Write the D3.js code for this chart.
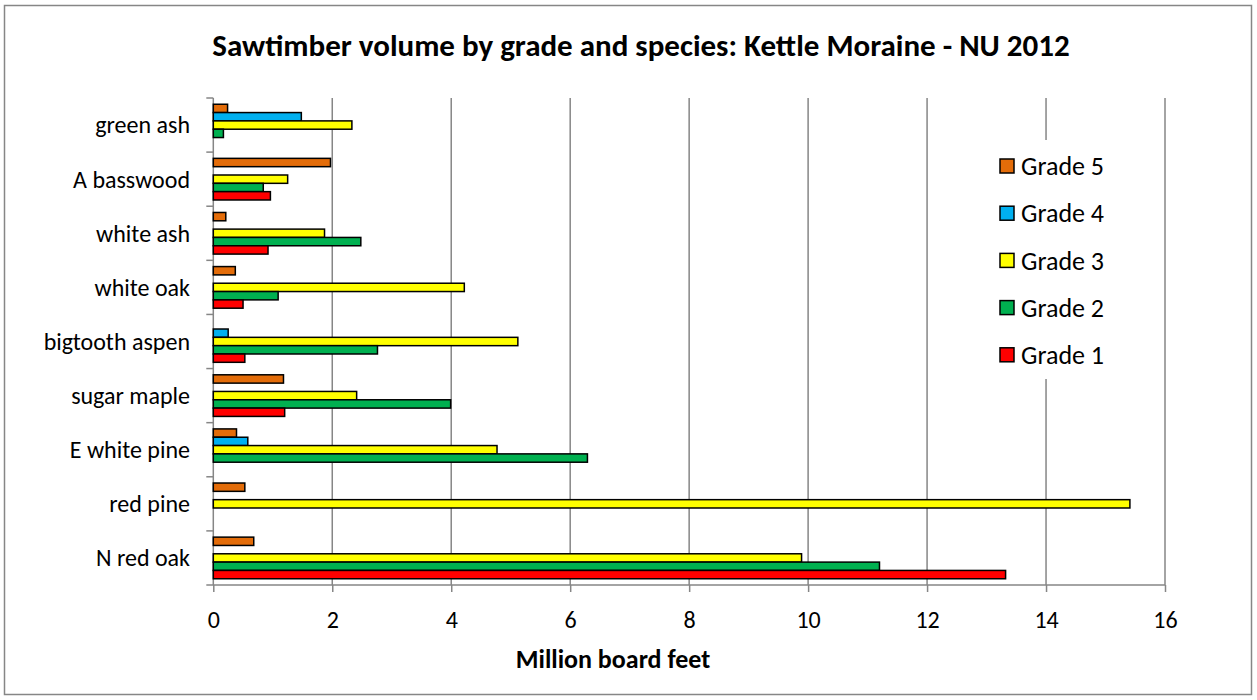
<!DOCTYPE html>
<html>
<head>
<meta charset="utf-8">
<script src="https://cdn.jsdelivr.net/npm/d3@7"></script>
<style>
  body { margin: 0; background: #fff; }
  text { font-family: Carlito, Lato, "Open Sans", sans-serif; fill: #000; }
</style>
</head>
<body>
<svg width="1257" height="700"></svg>
<script>
// categories, top to bottom as drawn
var species = ["green ash", "A basswood", "white ash", "white oak", "bigtooth aspen",
  "sugar maple", "E white pine", "red pine", "N red oak"];
var grades = ["Grade 5", "Grade 4", "Grade 3", "Grade 2", "Grade 1"];
var grade5 = [0.24, 1.97, 0.21, 0.37, 0, 1.18, 0.39, 0.53, 0.68];
var grade4 = [1.48, 0, 0, 0, 0.25, 0, 0.58, 0, 0];
var grade3 = [2.33, 1.25, 1.87, 4.22, 5.12, 2.41, 4.77, 15.41, 9.89];
var grade2 = [0.17, 0.84, 2.48, 1.09, 2.76, 3.99, 6.29, 0, 11.2];
var grade1 = [0, 0.96, 0.92, 0.50, 0.53, 1.20, 0, 0, 13.32];
var xTicks = [0, 2, 4, 6, 8, 10, 12, 14, 16];
var colors = ["#E36C09", "#00B0F0", "#FFFF00", "#00B050", "#FF0000"];

var series = [grade5, grade4, grade3, grade2, grade1];

var svg = d3.select("svg");

svg.append("rect").attr("x", 4.5).attr("y", 5.5).attr("width", 1247).attr("height", 689)
  .attr("fill", "#fff").attr("stroke", "#868686").attr("stroke-width", 1.5);

// plot area (window.top is read-only, so no bare "top")
var plotL = 213.3, plotR = 1165, plotT = 98, plotB = 585;

var x = d3.scaleLinear().domain([0, 16]).range([plotL, plotR]);
var y = d3.scaleBand().domain(species).range([plotT, plotB])
  .paddingInner(1.5 / 6.5).paddingOuter(0.75 / 6.5);
var yInner = d3.scaleBand().domain(grades).range([0, y.bandwidth()]);

// title
svg.append("text").attr("x", 641).attr("y", 56).attr("text-anchor", "middle")
  .style("font-size", "31px").style("font-weight", "bold")
  .text("Sawtimber volume by grade and species: Kettle Moraine - NU 2012");

// gridlines
svg.append("g").selectAll("line").data(xTicks.slice(1)).join("line")
  .attr("x1", d => x(d)).attr("x2", d => x(d))
  .attr("y1", plotT).attr("y2", plotB)
  .attr("stroke", "#868686").attr("stroke-width", 1.5);

// x axis
var xAxis = svg.append("g").attr("transform", "translate(0," + plotB + ")")
  .call(d3.axisBottom(x).tickValues(xTicks).tickSize(7).tickPadding(19));
xAxis.select(".domain").attr("stroke", "#868686").attr("stroke-width", 1.5)
  .attr("d", "M" + plotL + ",0H" + plotR);
xAxis.selectAll(".tick line").attr("stroke", "#868686").attr("stroke-width", 1.5);
xAxis.selectAll(".tick text").style("font-size", "24px")
  .style("font-family", "Carlito, Lato, 'Open Sans', sans-serif").attr("fill", "#000");

// y axis: ticks sit on the category boundaries
var bounds = d3.range(species.length + 1).map(i => plotT + i * y.step());
var yAxis = svg.append("g");
yAxis.append("line").attr("x1", plotL).attr("x2", plotL).attr("y1", plotT).attr("y2", plotB)
  .attr("stroke", "#868686").attr("stroke-width", 1.5);
yAxis.selectAll(".tk").data(bounds).join("line").attr("class", "tk")
  .attr("x1", plotL - 7).attr("x2", plotL).attr("y1", d => d).attr("y2", d => d)
  .attr("stroke", "#868686").attr("stroke-width", 1.5);
yAxis.selectAll("text").data(species).join("text")
  .attr("x", 190).attr("y", d => y(d) + y.bandwidth() / 2)
  .attr("dy", "0.35em").attr("text-anchor", "end")
  .style("font-size", "24px").text(d => d);

// bars
var groups = svg.append("g").selectAll("g").data(series).join("g")
  .attr("fill", (d, i) => colors[i]);
groups.selectAll("rect")
  .data((vals, i) => vals.map((v, j) => ({ v: v, sp: species[j], g: grades[i] })).filter(d => d.v > 0))
  .join("rect")
  .attr("x", plotL)
  .attr("y", d => y(d.sp) + yInner(d.g))
  .attr("width", d => x(d.v) - plotL)
  .attr("height", yInner.bandwidth())
  .attr("stroke", "#000").attr("stroke-width", 1.5);

// x axis title
svg.append("text").attr("x", 613).attr("y", 668).attr("text-anchor", "middle")
  .style("font-size", "26px").style("font-weight", "bold").text("Million board feet");

// legend
var legend = svg.append("g");
legend.append("rect").attr("x", 990).attr("y", 140).attr("width", 130).attr("height", 239)
  .attr("fill", "#fff");
var li = legend.selectAll("g").data(grades).join("g")
  .attr("transform", (d, i) => "translate(1000," + (166 + i * 47.2) + ")");
li.append("rect").attr("x", 0).attr("y", -7).attr("width", 14).attr("height", 14)
  .attr("fill", (d, i) => colors[i]).attr("stroke", "#000").attr("stroke-width", 1.5);
li.append("text").attr("x", 21).attr("dy", "0.35em").style("font-size", "26px").text(d => d);
</script>
</body>
</html>
